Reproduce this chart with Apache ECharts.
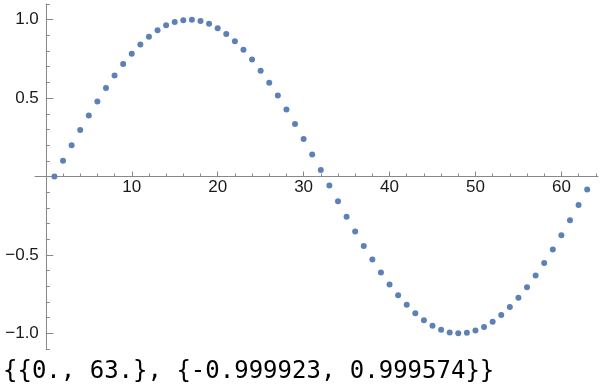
<!DOCTYPE html>
<html>
<head>
<meta charset="utf-8">
<script src="https://cdn.jsdelivr.net/npm/echarts@6/dist/echarts.min.js"></script>
<style>
html,body{margin:0;padding:0;background:#fff;}
#chart{width:600px;height:392px;}
</style>
</head>
<body>
<div id="chart"></div>
<script>
// x positions of the points
var xValues = [1,2,3,4,5,6,7,8,9,10,11,12,13,14,15,16,17,18,19,20,21,22,23,24,25,26,27,28,29,30,31,32,33,34,35,36,37,38,39,40,41,42,43,44,45,46,47,48,49,50,51,52,53,54,55,56,57,58,59,60,61,62,63];
// y values of the points
var yValues = [0.000,0.100,0.199,0.296,0.389,0.479,0.565,0.644,0.717,0.783,0.841,0.891,0.932,0.964,0.985,0.997,1.000,0.992,0.974,0.946,0.909,0.863,0.808,0.746,0.675,0.598,0.516,0.427,0.335,0.239,0.141,0.042,-0.058,-0.158,-0.256,-0.351,-0.443,-0.530,-0.612,-0.688,-0.757,-0.818,-0.872,-0.916,-0.952,-0.978,-0.994,-1.000,-0.996,-0.982,-0.959,-0.926,-0.883,-0.832,-0.773,-0.706,-0.631,-0.551,-0.465,-0.374,-0.279,-0.182,-0.083];
// tick values
var xMajorTicks = [0,10,20,30,40,50,60];
var xLabelTicks = [10,20,30,40,50,60];
var xMinorTicks = [-2,2,4,6,8,12,14,16,18,22,24,26,28,32,34,36,38,42,44,46,48,52,54,56,58,62,64];
var yMajorTicks = [-1,-0.5,0,0.5,1];
var yLabelTicks = [-1,-0.5,0.5,1];
var yMinorTicks = [-1.1,-0.9,-0.8,-0.7,-0.6,-0.4,-0.3,-0.2,-0.1,0.1,0.2,0.3,0.4,0.6,0.7,0.8,0.9,1.1];
var rangeText = '{{0., 63.}, {-0.999923, 0.999574}}';

var xMin = -1.26, xMax = 64.26, yMin = -1.1, yMax = 1.1;
var axisColor = '#888888';
var labelFont = {fontFamily: 'Liberation Sans', fontSize: 17, color: '#1a1a1a'};

var points = xValues.map(function (x, i) { return [x, yValues[i]]; });

function yFmt(v) {
  if (Math.abs(v) < 1e-9) return '';
  return v.toFixed(1).replace('-', '\u2212');
}

var mainGrid = {left: 35, right: 2, top: 4, bottom: 43, containLabel: false, outerBoundsMode: 'none'};
var mainX = {type: 'value', gridIndex: 0, min: xMin, max: xMax, show: false};
var mainY = {type: 'value', gridIndex: 0, min: yMin, max: yMax, show: false};
var scatter = {
  type: 'scatter',
  xAxisIndex: 0, yAxisIndex: 0,
  data: points,
  symbol: 'circle',
  symbolSize: 6,
  itemStyle: {color: '#5e81b5', opacity: 1},
  emphasis: {disabled: true},
  silent: true
};
var caption = {
  type: 'text',
  left: 3,
  top: 360,
  style: {text: rangeText, font: '24px "DejaVu Sans Mono"', fill: '#000000'}
};

var chart = echarts.init(document.getElementById('chart'), null, {renderer: 'canvas'});
chart.setOption({animation: false, grid: [mainGrid], xAxis: [mainX], yAxis: [mainY], series: [scatter]});

// locate the data origin through the library's own scales
var origin = chart.convertToPixel({gridIndex: 0}, [0, 0]);

chart.setOption({
  animation: false,
  backgroundColor: '#ffffff',
  grid: [
    mainGrid,
    {left: 35, right: 2, top: 4, height: origin[1] - 4, containLabel: false, outerBoundsMode: 'none'},
    {left: origin[0], right: 2, top: 4, bottom: 43, containLabel: false, outerBoundsMode: 'none'}
  ],
  xAxis: [
    mainX,
    {
      type: 'value', gridIndex: 1, min: xMin, max: xMax, position: 'bottom',
      axisLine: {show: true, onZero: false, lineStyle: {color: axisColor, width: 1}},
      axisTick: {show: true, inside: true, length: 5, customValues: xMajorTicks, lineStyle: {color: axisColor}},
      axisLabel: Object.assign({show: true, margin: 2, customValues: xLabelTicks, formatter: function (v) { return String(v); }}, labelFont),
      splitLine: {show: false}
    },
    {
      type: 'value', gridIndex: 1, min: xMin, max: xMax, position: 'bottom',
      axisLine: {show: false, onZero: false},
      axisTick: {show: true, inside: true, length: 3, customValues: xMinorTicks, lineStyle: {color: axisColor}},
      axisLabel: {show: false},
      splitLine: {show: false}
    },
    {type: 'value', gridIndex: 2, min: 0, max: xMax, show: false}
  ],
  yAxis: [
    mainY,
    {type: 'value', gridIndex: 1, min: 0, max: yMax, show: false},
    {
      type: 'value', gridIndex: 2, min: yMin, max: yMax, position: 'left',
      axisLine: {show: true, onZero: false, lineStyle: {color: axisColor, width: 1}},
      axisTick: {show: true, inside: true, length: 7.5, customValues: yMajorTicks, lineStyle: {color: axisColor}},
      axisLabel: Object.assign({show: true, margin: 7, customValues: yLabelTicks, formatter: yFmt}, labelFont),
      splitLine: {show: false}
    },
    {
      type: 'value', gridIndex: 2, min: yMin, max: yMax, position: 'left',
      axisLine: {show: false, onZero: false},
      axisTick: {show: true, inside: true, length: 4, customValues: yMinorTicks, lineStyle: {color: axisColor}},
      axisLabel: {show: false},
      splitLine: {show: false}
    }
  ],
  series: [scatter],
  graphic: [caption]
}, true);
</script>
</body>
</html>
